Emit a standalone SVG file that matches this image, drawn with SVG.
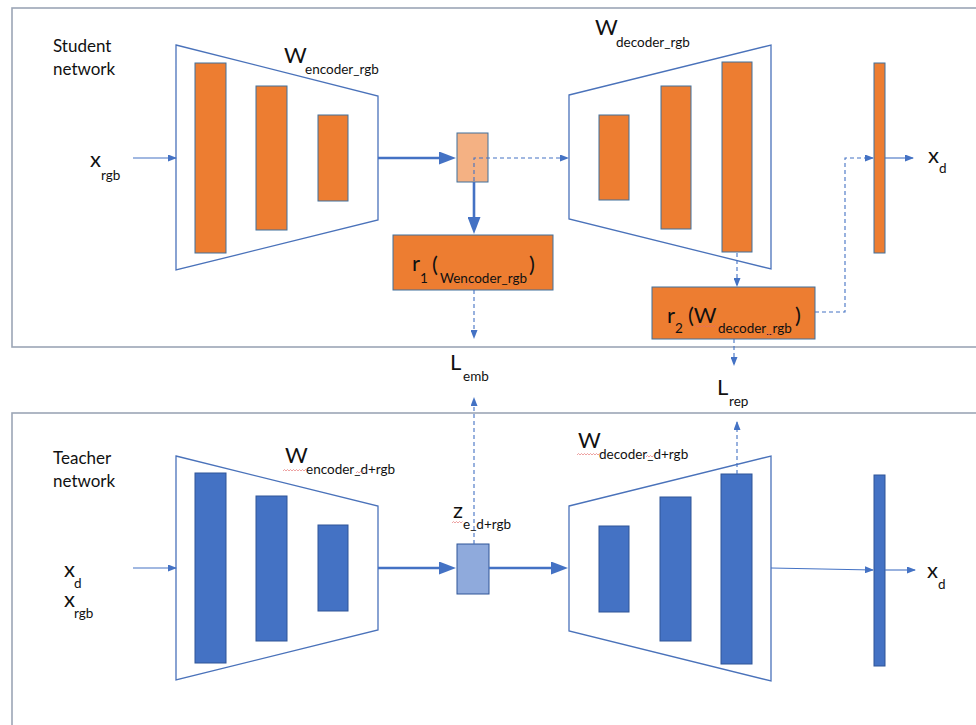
<svg xmlns="http://www.w3.org/2000/svg" width="976" height="725" viewBox="0 0 976 725">
  <style>
    text { font-family: Lato, "Open Sans", "Liberation Sans", sans-serif; fill: #111; }
    .lbl { font-size: 17px; }
    .big { font-size: 22px; }
    .sub { font-size: 13.5px; }
    .panel { fill: none; stroke: #9CA6B6; stroke-width: 1.6; }
    .trap { fill: #fff; stroke: #4A72BA; stroke-width: 1.3; }
    .bar-o { fill: #ED7D31; stroke: #41719C; stroke-width: 1; }
    .bar-b { fill: #4472C4; stroke: #2F5597; stroke-width: 1; }
    .lat-o { fill: #F4B183; stroke: #41719C; stroke-width: 1; }
    .lat-b { fill: #8FAADC; stroke: #2F5597; stroke-width: 1; }
    .thin { fill: none; stroke: #4472C4; stroke-width: 1.1; }
    .thick { fill: none; stroke: #4472C4; stroke-width: 2.6; }
    .dash { fill: none; stroke: #4472C4; stroke-width: 1.1; stroke-dasharray: 4 3; }
    .spell { fill: none; stroke: #E46C6C; stroke-width: 0.8; opacity: 0.8; }
  </style>
  <defs>
    <marker id="ah" markerUnits="userSpaceOnUse" markerWidth="9" markerHeight="7" refX="8" refY="3.5" orient="auto">
      <path d="M0,0 L9,3.5 L0,7 z" fill="#4472C4"/>
    </marker>
    <marker id="ahb" markerUnits="userSpaceOnUse" markerWidth="17" markerHeight="13" refX="9" refY="6.5" orient="auto">
      <path d="M0,0 L17,6.5 L0,13 z" fill="#4472C4"/>
    </marker>
  </defs>

  <rect width="976" height="725" fill="#fff"/>

  <!-- panels -->
  <rect class="panel" x="12" y="8" width="990" height="339"/>
  <rect class="panel" x="12" y="413" width="990" height="340"/>

  <!-- student network -->
  <g id="student-label">
    <text class="lbl" x="53" y="52">Student</text>
    <text class="lbl" x="53" y="75">network</text>
  </g>
  <g id="student-input">
    <text class="big" x="90" y="167">x</text>
    <text class="sub" x="101" y="180">rgb</text>
  </g>
  <g id="student-encoder">
    <polygon class="trap" points="176,45 378,96 378,220 176,270"/>
    <rect class="bar-o" x="195" y="63" width="31" height="190"/>
    <rect class="bar-o" x="256" y="86" width="31" height="144"/>
    <rect class="bar-o" x="318" y="115" width="30" height="86"/>
    <text class="big" x="284" y="63">W</text>
    <text class="sub" x="305" y="74">encoder_rgb</text>
  </g>
  <g id="student-latent">
    <rect class="lat-o" x="457" y="133" width="31" height="49"/>
  </g>
  <g id="student-decoder">
    <polygon class="trap" points="569,95 771,45 771,269 569,219"/>
    <rect class="bar-o" x="599" y="115" width="30" height="85"/>
    <rect class="bar-o" x="661" y="86" width="30" height="143"/>
    <rect class="bar-o" x="722" y="62" width="30" height="190"/>
    <text class="big" x="595" y="35">W</text>
    <text class="sub" x="616" y="47">decoder_rgb</text>
  </g>
  <g id="student-output">
    <rect class="bar-o" x="874" y="63" width="11" height="190"/>
    <text class="big" x="928" y="163">x</text>
    <text class="sub" x="939" y="173">d</text>
  </g>
  <g id="r1">
    <rect class="bar-o" x="393" y="235" width="160" height="55"/>
    <text class="big" x="412" y="271">r</text>
    <text class="sub" x="420" y="283">1</text>
    <text class="big" x="432" y="272">(</text>
    <text class="sub" x="440" y="283">Wencoder_rgb</text>
    <text class="big" x="529" y="272">)</text>
    <path class="spell" d="M465,285 l1.5,-1.5 l1.5,1.5 l1.5,-1.5 l1.5,1.5 l1.5,-1.5"/>
  </g>
  <g id="r2">
    <rect class="bar-o" x="652" y="287" width="163" height="52"/>
    <text class="big" x="667" y="323">r</text>
    <text class="sub" x="675" y="333">2</text>
    <text class="big" x="688" y="323">(W</text>
    <text class="sub" x="718" y="333">decoder_rgb</text>
    <text class="big" x="795" y="323">)</text>
    <path class="spell" d="M695,327 l1.5,-1.5 l1.5,1.5 l1.5,-1.5 l1.5,1.5 l1.5,-1.5 l1.5,1.5 l1.5,-1.5 l1.5,1.5 l1.5,-1.5 l1.5,1.5 l1.5,-1.5 l1.5,1.5 l1.5,-1.5 l1.5,1.5"/>
    <path class="spell" d="M766,335 l1.5,-1.5 l1.5,1.5 l1.5,-1.5 l1.5,1.5 l1.5,-1.5"/>
  </g>

  <!-- losses -->
  <g id="l-emb">
    <text class="big" x="450" y="370">L</text>
    <text class="sub" x="463" y="381">emb</text>
  </g>
  <g id="l-rep">
    <text class="big" x="717" y="395">L</text>
    <text class="sub" x="729" y="406">rep</text>
  </g>

  <!-- teacher network -->
  <g id="teacher-label">
    <text class="lbl" x="53" y="464">Teacher</text>
    <text class="lbl" x="53" y="487">network</text>
  </g>
  <g id="teacher-input">
    <text class="big" x="64" y="577">x</text>
    <text class="sub" x="74" y="588">d</text>
    <text class="big" x="64" y="607">x</text>
    <text class="sub" x="74" y="618">rgb</text>
  </g>
  <g id="teacher-encoder">
    <polygon class="trap" points="176,456 378,506 378,630 176,680"/>
    <rect class="bar-b" x="195" y="473" width="31" height="190"/>
    <rect class="bar-b" x="256" y="496" width="31" height="145"/>
    <rect class="bar-b" x="318" y="525" width="30" height="86"/>
    <text class="big" x="285" y="463">W</text>
    <text class="sub" x="306" y="474">encoder_d+rgb</text>
    <path class="spell" d="M283,471 l1.5,-1.5 l1.5,1.5 l1.5,-1.5 l1.5,1.5 l1.5,-1.5 l1.5,1.5 l1.5,-1.5 l1.5,1.5 l1.5,-1.5 l1.5,1.5 l1.5,-1.5 l1.5,1.5 l1.5,-1.5 l1.5,1.5 l1.5,-1.5 l1.5,1.5"/>
    <path class="spell" d="M356,473 l1.5,-1.5 l1.5,1.5 l1.5,-1.5 l1.5,1.5 l1.5,-1.5"/>
  </g>
  <g id="teacher-latent">
    <rect class="lat-b" x="457" y="544" width="32" height="50"/>
    <text class="big" x="453" y="518">z</text>
    <text class="sub" x="463" y="529">e_d+rgb</text>
    <path class="spell" d="M452,523 l1.5,-1.5 l1.5,1.5 l1.5,-1.5 l1.5,1.5 l1.5,-1.5 l1.5,1.5 l1.5,-1.5"/>
  </g>
  <g id="teacher-decoder">
    <polygon class="trap" points="569,506 771,456 771,681 569,631"/>
    <rect class="bar-b" x="599" y="526" width="30" height="86"/>
    <rect class="bar-b" x="660" y="497" width="31" height="144"/>
    <rect class="bar-b" x="721" y="474" width="31" height="190"/>
    <text class="big" x="578" y="448">W</text>
    <text class="sub" x="599" y="459">decoder_d+rgb</text>
    <path class="spell" d="M577,455 l1.5,-1.5 l1.5,1.5 l1.5,-1.5 l1.5,1.5 l1.5,-1.5 l1.5,1.5 l1.5,-1.5 l1.5,1.5 l1.5,-1.5 l1.5,1.5 l1.5,-1.5 l1.5,1.5 l1.5,-1.5 l1.5,1.5 l1.5,-1.5"/>
    <path class="spell" d="M646,457 l1.5,-1.5 l1.5,1.5 l1.5,-1.5 l1.5,1.5 l1.5,-1.5"/>
  </g>
  <g id="teacher-output">
    <rect class="bar-b" x="874" y="475" width="11" height="191"/>
    <text class="big" x="927" y="578">x</text>
    <text class="sub" x="938" y="589">d</text>
  </g>

  <!-- connectors -->
  <g id="connectors">
    <!-- student -->
    <path class="thin" d="M133,158 H176" marker-end="url(#ah)"/>
    <path class="thick" d="M378,158 H448" marker-end="url(#ahb)"/>
    <path class="dash" d="M474,181 V158 H568" marker-end="url(#ah)"/>
    <path class="thick" d="M474,182 V226" marker-end="url(#ahb)"/>
    <path class="dash" d="M474,290 V338" marker-end="url(#ah)"/>
    <path class="dash" d="M737,253 V286" marker-end="url(#ah)"/>
    <path class="dash" d="M815,312 H845 V158 H873" marker-end="url(#ah)"/>
    <path class="thin" d="M885,158 H913" marker-end="url(#ah)"/>
    <path class="dash" d="M734,339 V365" marker-end="url(#ah)"/>
    <!-- teacher -->
    <path class="thin" d="M133,568 H176" marker-end="url(#ah)"/>
    <path class="thick" d="M378,568 H448" marker-end="url(#ahb)"/>
    <path class="thick" d="M489,568 H560" marker-end="url(#ahb)"/>
    <path class="dash" d="M474,544 V398" marker-end="url(#ah)"/>
    <path class="dash" d="M737,474 V422" marker-end="url(#ah)"/>
    <path class="thin" d="M771,568 L873,570" marker-end="url(#ah)"/>
    <path class="thin" d="M885,570 H915" marker-end="url(#ah)"/>
  </g>
</svg>
